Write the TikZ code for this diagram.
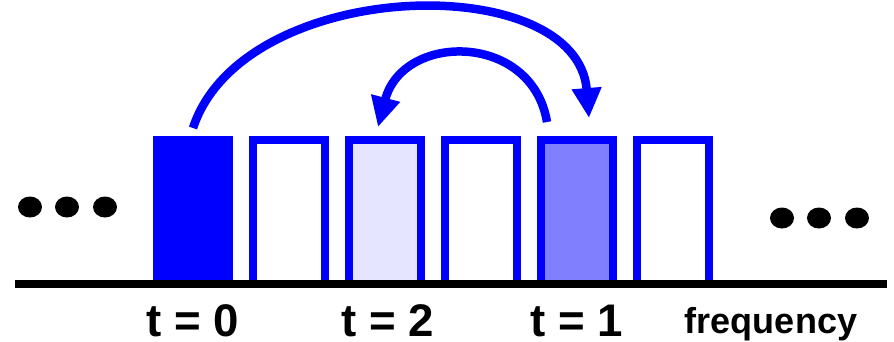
\documentclass[tikz,border=0pt]{standalone}
\usepackage{fontspec}
\setmainfont{Liberation Sans}
\usetikzlibrary{arrows.meta}
\tikzset{
	bin/.style={draw=blue, line width=0.16cm, minimum width=1.44cm, minimum height=2.88cm, inner sep=0pt},
	hop/.style={draw=blue, line width=0.17cm, -{Triangle[length=0.6cm,width=0.56cm]}},
	tlabel/.style={font=\bfseries\fontsize{26}{30}\selectfont, anchor=base, inner sep=0pt},
}
\begin{document}
\begin{tikzpicture}[x=0.02cm, y=-0.02cm]
	\useasboundingbox (0,0) rectangle (894,342);
	\node[bin, fill=blue] (b0) at (193,212) {};
	\node[bin] (b1) at (289,212) {};
	\node[bin, fill=blue!10] (b2) at (385,212) {};
	\node[bin] (b3) at (481,212) {};
	\node[bin, fill=blue!50] (b4) at (577,212) {};
	\node[bin] (b5) at (673,212) {};
	\draw[line width=0.16cm] (15,284) -- (887,284);
	\foreach \x in {30,67,105} \fill (\x,207) ellipse (0.24cm and 0.21cm);
	\foreach \x in {782,819,857} \fill (\x,218) ellipse (0.24cm and 0.21cm);
	\coordinate (s0) at ([yshift=0.16cm]b0.north);
	\coordinate (e4) at ([xshift=0.24cm, yshift=0.36cm]b4.north);
	\coordinate (s4) at ([xshift=-0.6cm, yshift=0.28cm]b4.north);
	\coordinate (e2) at ([xshift=-0.14cm, yshift=0.18cm]b2.north);
	\draw[hop] (s0) .. controls +(50,-152) and +(-12,-150) .. (e4);
	\draw[hop] (s4) .. controls +(-15,-90) and +(25,-95) .. (e2);
	\node[tlabel] (t0) at (193,336) {t = 0};
	\node[tlabel] (t2) at (388,336) {t = 2};
	\node[tlabel] (t1) at (577,336) {t = 1};
	\node[font=\bfseries\fontsize{20.5}{24}\selectfont, anchor=base, inner sep=0pt] (freq) at (771,333) {frequency};
\end{tikzpicture}
\end{document}
